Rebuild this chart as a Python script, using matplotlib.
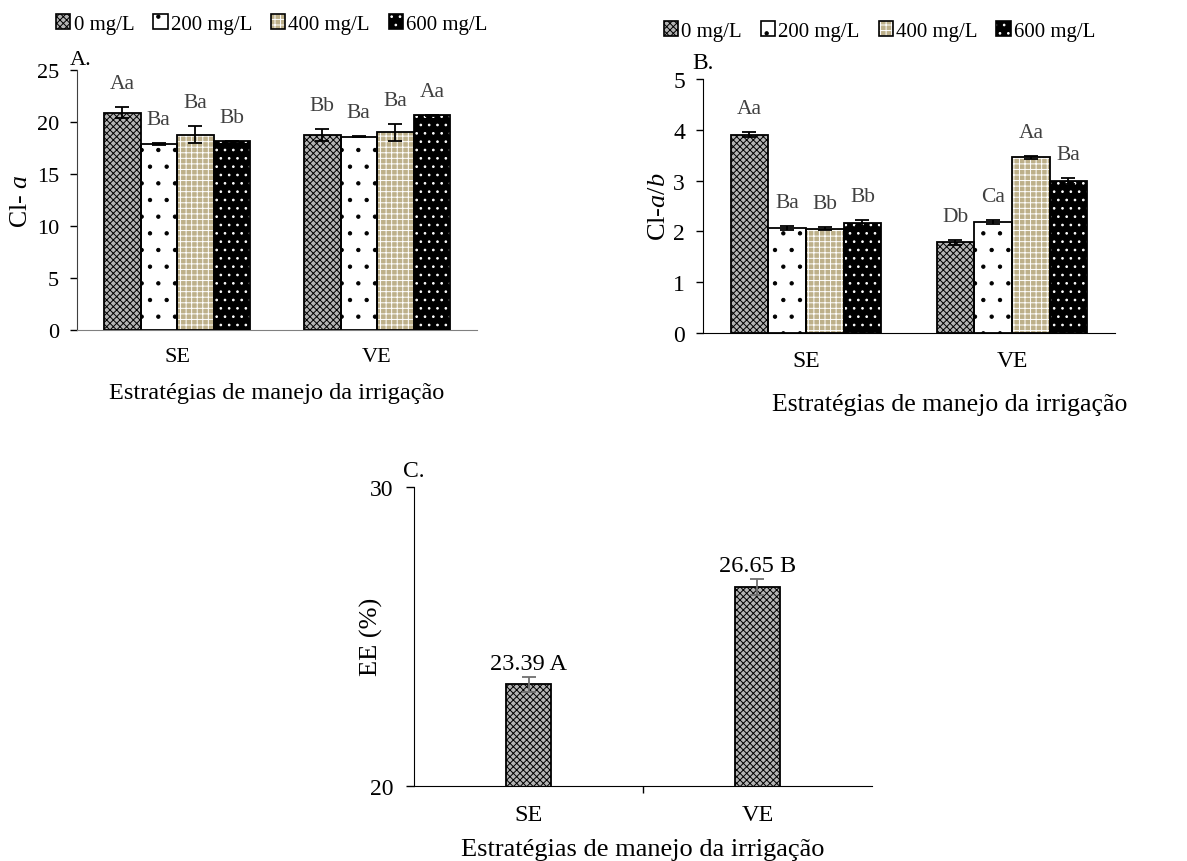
import matplotlib
matplotlib.use('Agg')
import matplotlib.pyplot as plt
import numpy as np
from matplotlib.patches import Patch

plt.rcParams['font.family'] = ['Liberation Serif', 'DejaVu Serif']
plt.rcParams['mathtext.fontset'] = 'custom'
plt.rcParams['mathtext.rm'] = 'Liberation Serif'
plt.rcParams['mathtext.it'] = 'Liberation Serif:italic'
plt.rcParams['font.size'] = 16
plt.rcParams['hatch.linewidth'] = 0.7

# data
strategies = ['SE', 'VE']
doses = ['0 mg/L', '200 mg/L', '400 mg/L', '600 mg/L']

cla_mean = [[20.9, 18.75], [17.9, 18.6], [18.8, 19.0], [18.15, 20.65]]
cla_err = [[0.55, 0.55], [0.1, 0.08], [0.85, 0.85], [0.06, 0.06]]
cla_letters = [['Aa', 'Bb'], ['Ba', 'Ba'], ['Ba', 'Ba'], ['Bb', 'Aa']]

clab_mean = [[3.90, 1.79], [2.06, 2.18], [2.05, 3.46], [2.16, 3.00]]
clab_err = [[0.05, 0.05], [0.04, 0.04], [0.03, 0.03], [0.06, 0.06]]
clab_letters = [['Aa', 'Db'], ['Ba', 'Ca'], ['Bb', 'Aa'], ['Bb', 'Ba']]

ee_mean = [23.39, 26.65]
ee_err = [0.24, 0.27]
ee_letters = ['A', 'B']

# bar styles: face, hatch, hatch colour
styles = [
    ('#b4b4b4', 'xxxxx', 'black'),
    ('white', '.', 'black'),
    ('#bdb08a', '+++', 'white'),
    ('black', '..', 'white'),
]
label_grey = '#404040'


def styled_bar(ax, x, h, w, st):
    face, hatch, hc = st
    ax.bar(x, h, w, color=face, hatch=hatch, edgecolor=hc, linewidth=0, zorder=2)
    ax.bar(x, h, w, facecolor='none', edgecolor='black', linewidth=1.3, zorder=3)


def grouped(ax, means, errs, letters, width, fs):
    x = np.arange(len(strategies))
    for i in range(len(doses)):
        xs = x + (i - 1.5) * width
        styled_bar(ax, xs, means[i], width, styles[i])
        ax.errorbar(xs, means[i], yerr=errs[i], fmt='none', ecolor='black',
                    elinewidth=1.3, capsize=5, capthick=1.3, zorder=4)
        for xi, m, e, t in zip(xs, means[i], errs[i], letters[i]):
            ax.annotate(t, (xi, m + e), xytext=(0, 10), textcoords='offset points',
                        ha='center', va='bottom', color=label_grey, fontsize=15.5)
    ax.set_xticks(x)
    ax.set_xticklabels(strategies, fontsize=fs)
    ax.set_xlim(-0.5, 1.5)
    ax.tick_params(axis='x', length=0, pad=12)
    ax.tick_params(axis='y', direction='out', length=5, width=1, labelsize=fs, pad=8)
    ax.spines['top'].set_visible(False)
    ax.spines['right'].set_visible(False)


def legend_handles():
    hs = []
    for face, hatch, hc in styles:
        hs.append((Patch(facecolor=face, hatch=hatch, edgecolor=hc, linewidth=0),
                   Patch(facecolor='none', edgecolor='black', linewidth=1.2)))
    return hs


fig = plt.figure(figsize=(11.87, 8.62), dpi=100)

axA = fig.add_axes([0.0649, 0.616, 0.337, 0.3016])
grouped(axA, cla_mean, cla_err, cla_letters, 0.1825, 16)
axA.set_ylim(0, 25)
axA.set_yticks(range(0, 26, 5))
axA.set_ylabel('Cl- $\\mathit{a}$', fontsize=18.5)
axA.yaxis.set_label_coords(-0.1125, 0.5)
axA.set_xlabel('Estratégias de manejo da irrigação', fontsize=17.5, labelpad=12)
axA.spines['bottom'].set_color('#808080')
axA.spines['left'].set_color('#404040')
axA.text(-0.018, 1.005, 'A.', transform=axA.transAxes, ha='left', va='bottom', fontsize=16)

axB = fig.add_axes([0.5922, 0.6125, 0.3471, 0.2947])
grouped(axB, clab_mean, clab_err, clab_letters, 0.183, 17)
axB.set_ylim(0, 5)
axB.set_yticks(range(0, 6))
axB.set_ylabel('Cl-$\\mathit{a/b}$', fontsize=19)
axB.yaxis.set_label_coords(-0.08, 0.5)
axB.set_xlabel('Estratégias de manejo da irrigação', fontsize=18.5, labelpad=16)
axB.xaxis.label.set_x(0.6)
axB.text(-0.025, 1.025, 'B.', transform=axB.transAxes, ha='left', va='bottom', fontsize=17)

axC = fig.add_axes([0.3488, 0.0874, 0.3858, 0.3465])
xc = np.arange(len(strategies))
styled_bar(axC, xc, ee_mean, 0.2, styles[0])
axC.errorbar(xc, ee_mean, yerr=ee_err, fmt='none', ecolor='#707070',
             elinewidth=1.3, capsize=5, capthick=1.3, zorder=4)
for xi, m, e, t in zip(xc, ee_mean, ee_err, ee_letters):
    axC.annotate(f'{m:.2f} {t}', (xi, m + e), xytext=(0, 2), textcoords='offset points',
                 ha='center', va='bottom', fontsize=17.5)
axC.set_xlim(-0.5, 1.5)
axC.set_ylim(20, 30)
axC.set_yticks([20, 30])
axC.set_xticks([0.5])
axC.set_xticklabels([''])
axC.tick_params(axis='x', direction='out', length=5, width=1)
axC.tick_params(axis='y', direction='out', length=6, width=1, labelsize=17, pad=9)
for xi, s in zip(xc, strategies):
    axC.annotate(s, (xi, 0), xycoords=('data', 'axes fraction'), xytext=(0, -21),
                 textcoords='offset points', ha='center', va='center', fontsize=17.5)
axC.spines['top'].set_visible(False)
axC.spines['right'].set_visible(False)
axC.set_xlabel('Estratégias de manejo da irrigação', fontsize=19, labelpad=29)
axC.set_ylabel('EE (%)', fontsize=19)
axC.yaxis.set_label_coords(-0.068, 0.5)
axC.text(-0.025, 1.02, 'C.', transform=axC.transAxes, ha='left', va='bottom', fontsize=17)

leg_kw = dict(ncol=4, frameon=False, handlelength=0.7, handleheight=0.7,
              handletextpad=0.15, columnspacing=0.9, borderaxespad=0, fontsize=15)
fig.legend(legend_handles(), doses, loc='center', bbox_to_anchor=(0.229, 0.971), **leg_kw)
fig.legend(legend_handles(), doses, loc='center', bbox_to_anchor=(0.741, 0.963), **leg_kw)

fig.savefig('out.png', dpi=100)
